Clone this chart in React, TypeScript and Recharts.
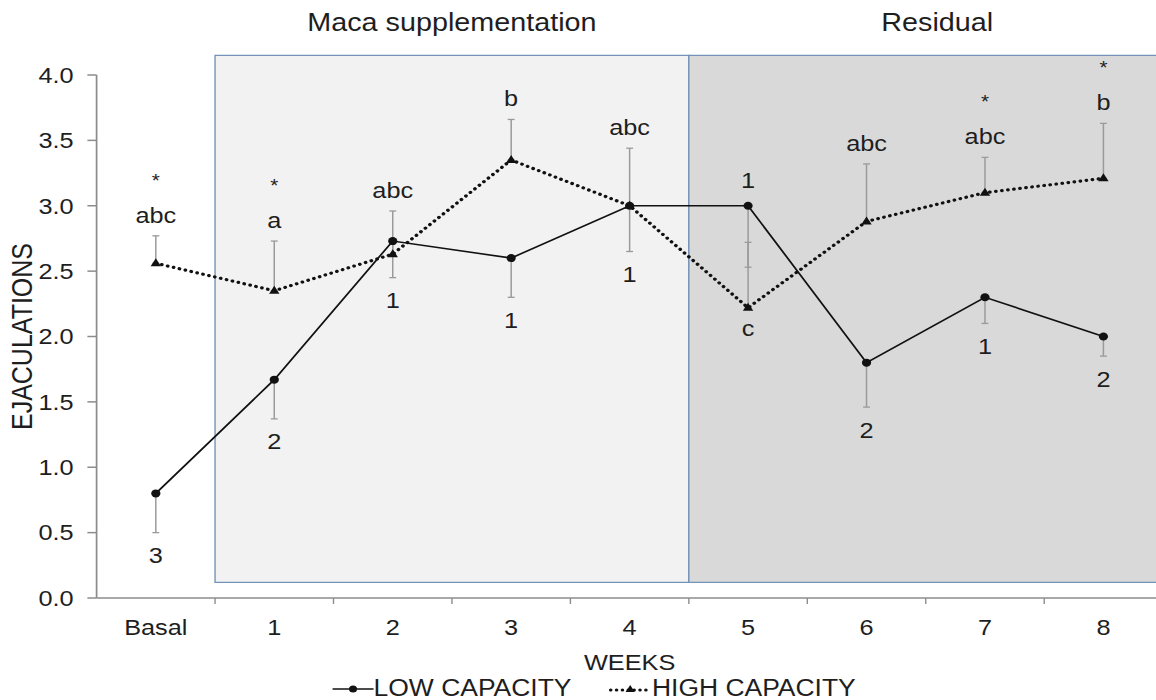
import { LineChart, Line, XAxis, YAxis, ReferenceArea, ErrorBar, LabelList, Legend } from 'recharts';

// values
const weeks = ['Basal', '1', '2', '3', '4', '5', '6', '7', '8'];
const lowCapacity = [0.8, 1.67, 2.73, 2.6, 3.0, 3.0, 1.8, 2.3, 2.0];
const lowError = [0.3, 0.3, 0.28, 0.3, 0.35, 0.47, 0.34, 0.2, 0.15];
const highCapacity = [2.56, 2.35, 2.63, 3.35, 3.0, 2.22, 2.88, 3.1, 3.21];
const highError = [0.21, 0.38, 0.33, 0.31, 0.44, 0.5, 0.44, 0.27, 0.42];

// significance marks
const lowLettersBelow = ['3', '2', '1', '1', '1', '', '2', '1', '2'];
const lowLettersAbove = ['', '', '', '', '', '1', '', '', ''];
const highLettersAbove = ['abc', 'a', 'abc', 'b', 'abc', '', 'abc', 'abc', 'b'];
const highLettersBelow = ['', '', '', '', '', 'c', '', '', ''];
const highStars = ['*', '*', '', '', '', '', '', '*', '*'];

const yTicks = [0, 0.5, 1, 1.5, 2, 2.5, 3, 3.5, 4];

const FONT = '"Liberation Sans", Arial, sans-serif';
const TEXT = '#1e1e1e';
const AXIS = '#8c8c8c';
const STRETCH = 1.15; // the source figure is a bit wider than it is tall

const data = weeks.map((week, i) => ({
  x: i,
  week,
  low: lowCapacity[i],
  lowErr: [lowError[i], 0],
  lowEnd: lowCapacity[i] - lowError[i],
  high: highCapacity[i],
  highErr: [0, highError[i]],
  highEnd: highCapacity[i] + highError[i],
  lowBelow: lowLettersBelow[i],
  lowAbove: lowLettersAbove[i],
  highAbove: highLettersAbove[i],
  highBelow: highLettersBelow[i],
  star: highStars[i],
}));

// week labels at the integers, tick marks at the half steps between weeks
const xTicks = weeks.flatMap((_, i) => (i === 0 ? [0] : [i - 0.5, i]));

const WeekTick = (props: any) => {
  const { x, y, payload } = props;
  const v = payload.value;
  if (!Number.isInteger(v)) {
    return <line x1={x} x2={x} y1={y} y2={y + 6} stroke={AXIS} strokeWidth={1.2} />;
  }
  return (
    <text x={x} y={y + 21} dy="0.71em" textAnchor="middle" fontSize={22} fill={TEXT}>
      {weeks[v]}
    </text>
  );
};

const Triangle = (props: any) => {
  const { cx, cy, index } = props;
  if (cx == null || cy == null) return null;
  return <path key={`tri-${index}`} d={`M${cx},${cy - 5} L${cx + 4.5},${cy + 3} L${cx - 4.5},${cy + 3} Z`} fill="#111" />;
};

const LegendContent = () => (
  <div
    style={{
      display: 'flex',
      justifyContent: 'center',
      alignItems: 'center',
      height: 30,
      fontSize: 23,
      color: TEXT,
      fontFamily: FONT,
      paddingLeft: 22,
      paddingTop: 7,
      boxSizing: 'border-box',
    }}
  >
    <svg width={36} height={14}>
      <line x1={0} x2={36} y1={7} y2={7} stroke="#111" strokeWidth={1.6} />
      <circle cx={18} cy={7} r={3.5} fill="#111" />
    </svg>
    <span>LOW CAPACITY</span>
    <svg width={38} height={14} style={{ marginLeft: 32 }}>
      <line x1={2} x2={37} y1={8} y2={8} stroke="#111" strokeWidth={3} strokeDasharray="0.1 5" strokeLinecap="round" />
      <path d="M19,3 L23,10 L15,10 Z" fill="#111" />
    </svg>
    <span>HIGH CAPACITY</span>
  </div>
);

export default function App() {
  return (
    <div style={{ position: 'fixed', left: 0, top: 0, width: 1156, height: 700, overflow: 'hidden', background: '#fff' }}>
      <div style={{ width: 1026, height: 700, transform: `scaleX(${STRETCH})`, transformOrigin: '0 0' }}>
        <LineChart
          width={1026}
          height={700}
          data={data}
          margin={{ top: 75, right: 15, bottom: 0, left: 0 }}
          style={{ fontFamily: FONT }}
        >
          <ReferenceArea
            x1={0.5}
            x2={4.5}
            y1={0.12}
            y2={4.15}
            ifOverflow="visible"
            fill="#f2f2f2"
            fillOpacity={1}
            stroke="#7493b8"
            strokeWidth={1.2}
            label={{ value: 'Maca supplementation', position: 'top', offset: 24, fontSize: 25, fill: TEXT }}
          />
          <ReferenceArea
            x1={4.5}
            x2={8.5}
            y1={0.12}
            y2={4.15}
            ifOverflow="visible"
            fill="#d9d9d9"
            fillOpacity={1}
            stroke="#7493b8"
            strokeWidth={1.2}
            label={{ value: 'Residual', position: 'top', offset: 24, dx: 10, fontSize: 25, fill: TEXT }}
          />
          <XAxis
            dataKey="x"
            type="number"
            domain={[-0.5, 8.5]}
            ticks={xTicks}
            interval={0}
            tick={<WeekTick />}
            tickLine={false}
            tickSize={0}
            tickMargin={0}
            height={72}
            stroke={AXIS}
            strokeWidth={1.5}
            label={{ value: 'WEEKS', position: 'insideBottom', offset: 0, fontSize: 22, fill: TEXT }}
          />
          <YAxis
            domain={[0, 4]}
            ticks={yTicks}
            interval={0}
            width={84}
            tickSize={8}
            tickMargin={12}
            tickFormatter={(v: number) => v.toFixed(1)}
            tick={{ fontSize: 22, fill: TEXT }}
            stroke={AXIS}
            strokeWidth={1.5}
            label={{
              value: 'EJACULATIONS',
              angle: -90,
              position: 'insideLeft',
              offset: 19,
              fontSize: 25,
              fill: TEXT,
              style: { textAnchor: 'middle' },
            }}
          />
          <Legend verticalAlign="bottom" content={<LegendContent />} />

          {/* invisible anchors at the ends of the error bars, used for the letter marks */}
          <Line dataKey="lowEnd" stroke="none" dot={false} activeDot={false} legendType="none" isAnimationActive={false}>
            <LabelList dataKey="lowBelow" position="bottom" offset={15} fontSize={22} fill={TEXT} />
          </Line>
          <Line dataKey="highEnd" stroke="none" dot={false} activeDot={false} legendType="none" isAnimationActive={false}>
            <LabelList dataKey="highAbove" position="top" offset={13} fontSize={22} fill={TEXT} />
            <LabelList dataKey="star" position="top" offset={49} fontSize={18} fill={TEXT} />
          </Line>

          <Line
            dataKey="low"
            name="LOW CAPACITY"
            stroke="#111"
            strokeWidth={1.6}
            dot={{ r: 4, fill: '#111', stroke: '#111', strokeWidth: 0 }}
            activeDot={false}
            isAnimationActive={false}
          >
            <ErrorBar dataKey="lowErr" direction="y" width={3} stroke="#9a9a9a" strokeWidth={1.3} />
            <LabelList dataKey="lowAbove" position="top" offset={18} fontSize={22} fill={TEXT} />
          </Line>
          <Line
            dataKey="high"
            name="HIGH CAPACITY"
            stroke="#111"
            strokeWidth={3.2}
            strokeDasharray="0.1 5.2"
            strokeLinecap="round"
            dot={<Triangle />}
            activeDot={false}
            isAnimationActive={false}
          >
            <ErrorBar dataKey="highErr" direction="y" width={3} stroke="#9a9a9a" strokeWidth={1.3} />
            <LabelList dataKey="highBelow" position="bottom" offset={13} fontSize={22} fill={TEXT} />
          </Line>
        </LineChart>
      </div>
    </div>
  );
}
